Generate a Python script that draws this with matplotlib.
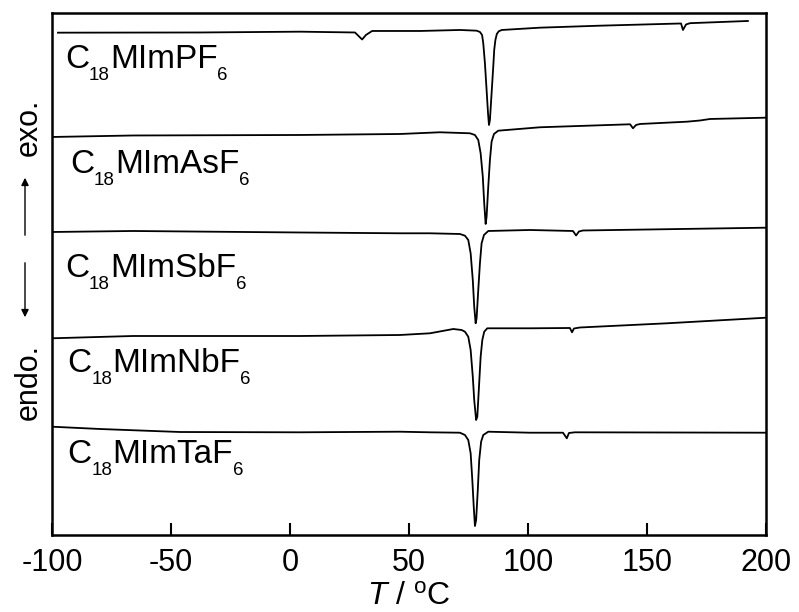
import matplotlib
matplotlib.use("Agg")
import matplotlib.pyplot as plt
from matplotlib.patches import FancyArrowPatch
from matplotlib.transforms import offset_copy

plt.rcParams['font.family'] = ['Liberation Sans', 'DejaVu Sans']
plt.rcParams['mathtext.fontset'] = 'custom'
plt.rcParams['mathtext.rm'] = 'Liberation Sans'
plt.rcParams['mathtext.it'] = 'Liberation Sans:italic'
plt.rcParams['axes.unicode_minus'] = False

# DSC traces (temperature in degC, heat flow in a.u., curves already stacked)
pf6_T = [-97.5, -37.8, 4.2, 27.3, 30.3, 31.9, 34.5, 54.6, 71.4, 78.4, 79.8, 80.7,
         81.2, 81.9, 82.6, 83.2, 83.6, 84.0, 84.7, 85.4, 85.8, 86.3, 86.9, 87.7,
         89.0, 105.0, 130.3, 164.3, 165.1, 166.4, 168.1, 192.4]
pf6_s = [50.23, 50.25, 50.33, 50.25, 49.55, 50.0, 50.4, 50.4, 50.5, 50.43, 50.3, 50.0,
         49.17, 47.17, 44.5, 42.17, 41.0, 41.5, 44.17, 46.83, 48.5, 49.5, 50.1, 50.37,
         50.5, 50.73, 50.93, 51.15, 50.5, 51.05, 51.18, 51.4]

asf6_T = [-100, -66.0, 4.2, 46.2, 63.0, 75.6, 77.7, 79.1, 80.1, 81.0, 81.6, 82.2,
          82.6, 83.3, 84.0, 84.7, 85.7, 87.5, 105.0, 142.9, 144.1, 145.4, 147.1,
          166.8, 172.3, 176.5, 200]
asf6_s = [39.8, 39.95, 40.0, 40.1, 40.27, 40.17, 40.0, 39.5, 38.17, 35.83, 33.17, 31.1,
          31.83, 34.83, 37.5, 39.33, 40.1, 40.43, 40.77, 41.07, 40.67, 41.0, 41.1,
          41.33, 41.45, 41.6, 41.73]

sbf6_T = [-100, -66.0, 4.2, 46.2, 58.8, 71.4, 73.5, 74.9, 75.9, 76.8, 77.4, 78.0,
          78.4, 79.1, 79.8, 80.5, 81.5, 83.3, 100.8, 118.9, 120.2, 121.4, 123.1, 200]
sbf6_s = [30.3, 30.4, 30.25, 30.17, 30.17, 30.1, 29.93, 29.5, 28.17, 25.5, 22.83, 21.17,
          21.67, 24.5, 27.17, 29.17, 30.0, 30.4, 30.5, 30.4, 29.95, 30.35, 30.45, 30.73]

nbf6_T = [-100, -66.0, 4.2, 46.2, 58.8, 68.6, 72.1, 73.5, 74.9, 75.9, 76.8, 77.4,
          78.2, 78.7, 79.4, 80.1, 80.8, 81.6, 82.9, 100.8, 117.6, 118.5, 119.3,
          121.8, 158.4, 200]
nbf6_s = [19.67, 19.9, 19.9, 20.0, 20.17, 20.6, 20.5, 20.33, 19.83, 18.5, 15.83, 13.5,
          11.5, 11.83, 14.83, 17.83, 19.5, 20.33, 20.67, 20.67, 20.7, 20.27, 20.65,
          20.75, 21.17, 21.73]

taf6_T = [-100, -79.8, -46.2, 4.2, 46.2, 58.8, 71.4, 73.5, 74.9, 75.9, 76.6, 77.2,
          77.7, 78.2, 78.9, 79.5, 80.3, 81.2, 83.3, 100.8, 114.7, 116.3, 117.2,
          119.7, 200]
taf6_s = [10.83, 10.6, 10.3, 10.27, 10.33, 10.27, 10.23, 10.0, 9.5, 8.17, 5.5, 2.83,
          0.9, 1.5, 4.5, 7.5, 9.33, 10.0, 10.33, 10.23, 10.23, 9.67, 10.2, 10.27, 10.23]

anions = ['PF', 'AsF', 'SbF', 'NbF', 'TaF']
# label anchor (axes fraction, left / baseline)
label_x = [0.018, 0.025, 0.018, 0.021, 0.021]
label_y = [0.895, 0.693, 0.494, 0.312, 0.138]

x_ticks = [-100, -50, 0, 50, 100, 150, 200]

fig = plt.figure(figsize=(7.99, 6.12), dpi=100)
ax = fig.add_axes([0.0651, 0.1258, 0.8936, 0.853])
renderer = fig.canvas.get_renderer()

curves = [(pf6_T, pf6_s), (asf6_T, asf6_s), (sbf6_T, sbf6_s),
          (nbf6_T, nbf6_s), (taf6_T, taf6_s)]
for T, s in curves:
    ax.plot(T, s, color='black', lw=1.3)


def formula(x, y, pieces, size=24, sub_size=13.5, drop=12):
    # write text piece by piece, subscripts smaller and lowered
    dx = 0
    for txt, sub in pieces:
        tr = offset_copy(ax.transAxes, fig=fig, x=dx, y=-drop if sub else 0,
                         units='dots')
        t = ax.text(x, y, txt, transform=tr, fontsize=sub_size if sub else size,
                    ha='left', va='baseline')
        dx += t.get_window_extent(renderer).width


for an, lx, ly in zip(anions, label_x, label_y):
    formula(lx, ly, [('C', False), ('18', True), ('MIm' + an, False), ('6', True)])

ax.set_xlim(-100, 200)
ax.set_ylim(0, 52.2)
ax.set_xticks(x_ticks)
ax.set_xticklabels([str(t) for t in x_ticks])
ax.set_yticks([])
ax.tick_params(axis='x', direction='in', length=8.5, width=1.5,
               labelsize=22, pad=9, top=False)
for sp in ax.spines.values():
    sp.set_linewidth(1.8)

ax.set_xlabel(r'$T$ / $^{\mathrm{o}}$C', fontsize=23, labelpad=3)

# exo / endo indicator on the left
fig.text(29 / 799, 1 - 127 / 612, 'exo.', rotation=90, fontsize=22,
         ha='center', va='center')
fig.text(29 / 799, 1 - 382 / 612, 'endo.', rotation=90, fontsize=22,
         ha='center', va='center')
arrow = dict(arrowstyle='-|>', color='black', lw=1.0, mutation_scale=11)
fig.add_artist(FancyArrowPatch((25 / 799, 1 - 238 / 612), (25 / 799, 1 - 175 / 612),
                               transform=fig.transFigure, **arrow))
fig.add_artist(FancyArrowPatch((25 / 799, 1 - 260 / 612), (25 / 799, 1 - 320 / 612),
                               transform=fig.transFigure, **arrow))

fig.savefig('out.png', dpi=100)
